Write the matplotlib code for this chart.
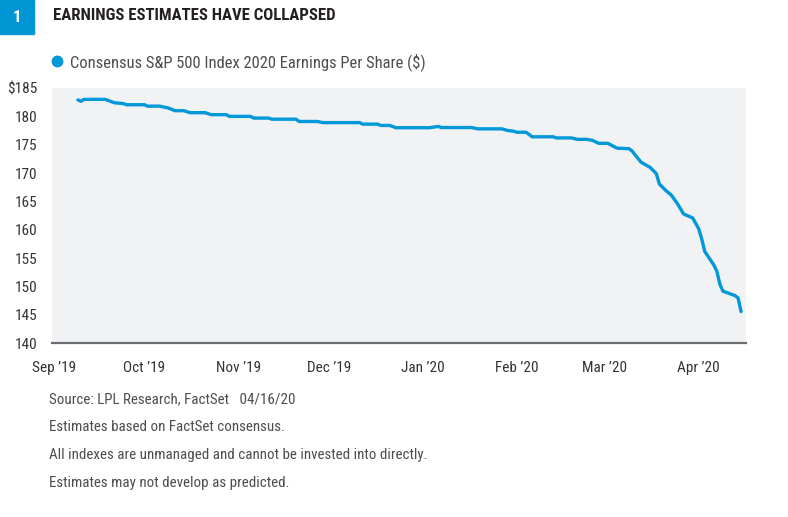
import matplotlib
matplotlib.use("Agg")
import matplotlib.pyplot as plt
from matplotlib import font_manager as fm
from matplotlib.lines import Line2D
import pandas as pd

# ---------------- data ----------------
dates = [
    "2019-09-09", "2019-09-10", "2019-09-11", "2019-09-18", "2019-09-21",
    "2019-09-24", "2019-09-25", "2019-10-01", "2019-10-02", "2019-10-06",
    "2019-10-09", "2019-10-11", "2019-10-14", "2019-10-16", "2019-10-21",
    "2019-10-23", "2019-10-28", "2019-10-29", "2019-11-05", "2019-11-06",
    "2019-11-11", "2019-11-12", "2019-11-20", "2019-11-21", "2019-11-27",
    "2019-11-29", "2019-12-11", "2019-12-12", "2019-12-17", "2019-12-18",
    "2019-12-21", "2019-12-23", "2020-01-03", "2020-01-06", "2020-01-07",
    "2020-01-17", "2020-01-19", "2020-01-27", "2020-01-29", "2020-01-31",
    "2020-02-01", "2020-02-04", "2020-02-06", "2020-02-13", "2020-02-14",
    "2020-02-19", "2020-02-21", "2020-02-24", "2020-02-26", "2020-02-28",
    "2020-03-02", "2020-03-05", "2020-03-09", "2020-03-10", "2020-03-11",
    "2020-03-13", "2020-03-16", "2020-03-18", "2020-03-19", "2020-03-21",
    "2020-03-23", "2020-03-25", "2020-03-27", "2020-03-30", "2020-04-01",
    "2020-04-02", "2020-04-03", "2020-04-06", "2020-04-07", "2020-04-08",
    "2020-04-09", "2020-04-13", "2020-04-14", "2020-04-15",
]
eps = [
    182.9, 182.65, 183.0, 183.0, 182.4,
    182.25, 182.05, 182.05, 181.8, 181.8,
    181.45, 181.0, 181.0, 180.65, 180.65,
    180.3, 180.3, 180.0, 180.0, 179.7,
    179.7, 179.5, 179.5, 179.1, 179.1,
    178.9, 178.9, 178.63, 178.63, 178.4,
    178.4, 178.0, 178.0, 178.22, 178.03,
    178.03, 177.8, 177.8, 177.5, 177.37,
    177.2, 177.2, 176.4, 176.4, 176.2,
    176.2, 175.95, 175.95, 175.75, 175.25,
    175.25, 174.4, 174.3, 173.9, 173.2,
    171.9, 171.0, 169.9, 168.1, 167.0,
    166.1, 164.6, 162.8, 162.1, 160.2,
    158.4, 156.2, 153.8, 152.7, 150.4,
    149.2, 148.4, 148.0, 145.6,
]
month_ticks = ["2019-09-01", "2019-10-01", "2019-11-01", "2019-12-01",
               "2020-01-01", "2020-02-01", "2020-03-01", "2020-04-01"]
month_labels = ["Sep \u201919", "Oct \u201919", "Nov \u201919", "Dec \u201919",
                "Jan \u201920", "Feb \u201920", "Mar \u201920", "Apr \u201920"]
y_ticks = [140, 145, 150, 155, 160, 165, 170, 175, 180, 185]
y_labels = ["140", "145", "150", "155", "160", "165", "170", "175", "180", "$185"]
series_label = "Consensus S&P 500 Index 2020 Earnings Per Share ($)"
title = "EARNINGS ESTIMATES HAVE COLLAPSED"
notes = [
    "Source: LPL Research, FactSet   04/16/20",
    "Estimates based on FactSet consensus.",
    "All indexes are unmanaged and cannot be invested into directly.",
    "Estimates may not develop as predicted.",
]

# ---------------- fonts ----------------
names = {f.name for f in fm.fontManager.ttflist}
family = None
stretch = "normal"
for cand in ["Liberation Sans Narrow", "Roboto Condensed", "Open Sans Condensed",
             "DejaVu Sans Condensed", "Noto Sans Condensed", "Arial Narrow"]:
    if cand in names:
        family = cand
        break
if family is None:
    for f in fm.fontManager.ttflist:
        if f.stretch in ("condensed", "semi-condensed", "extra-condensed") or \
           (isinstance(f.stretch, int) and f.stretch < 500):
            family = f.name
            stretch = f.stretch
            break
if family is None:
    family = "Roboto"
    scale = 0.85
else:
    scale = 1.0

plt.rcParams["font.family"] = [family, "DejaVu Sans"]
FS = lambda px: px * 0.72 * scale

BLUE = "#0098D8"
DARK = "#231F20"
GRAY = "#4D4D4F"

# ---------------- figure ----------------
W, H = 788, 517
fig = plt.figure(figsize=(W / 100, H / 100), dpi=100)
fig.patch.set_facecolor("white")

ax_l, ax_r, ax_t, ax_b = 51.7, 746, 88, 343.3
ax = fig.add_axes([ax_l / W, 1 - ax_b / H, (ax_r - ax_l) / W, (ax_b - ax_t) / H])
ax.set_facecolor("#F1F2F4")

x = pd.to_datetime(dates)
ax.plot(x, eps, color=BLUE, lw=2.4, solid_joinstyle="round",
        solid_capstyle="round", label=series_label, zorder=3)

ax.set_ylim(140, 185)
ax.set_xlim(pd.Timestamp("2019-08-31 08:00"), pd.Timestamp("2020-04-16 15:00"))

ax.set_yticks(y_ticks)
ax.set_yticklabels(y_labels)
ax.set_xticks(pd.to_datetime(month_ticks))
ax.set_xticklabels(month_labels)

for s in ["top", "right", "left"]:
    ax.spines[s].set_visible(False)
ax.spines["bottom"].set_color("#6D6E71")
ax.spines["bottom"].set_linewidth(1.6)
ax.tick_params(axis="both", length=0, colors="#333333", labelsize=FS(15.2))
ax.tick_params(axis="y", pad=10.5)
ax.tick_params(axis="x", pad=13)
for lab in ax.get_xticklabels() + ax.get_yticklabels():
    lab.set_fontstretch(stretch)

# legend
handle = Line2D([], [], marker="o", ls="none", color=BLUE, markersize=7.5)
leg = ax.legend([handle], [series_label], loc="center left",
                bbox_to_anchor=(49 / W, 1 - 62 / H), bbox_transform=fig.transFigure,
                frameon=False, handletextpad=0.25, handlelength=1.0,
                borderpad=0, borderaxespad=0,
                prop=dict(family=[family, "DejaVu Sans"], size=FS(16.5), stretch=stretch))
for t in leg.get_texts():
    t.set_color(GRAY)

# title block
fig.patches.append(plt.Rectangle((0, 1 - 34 / H), 34 / W, 34 / H,
                                 transform=fig.transFigure, color="#0096D6", zorder=1))
fig.text(17 / W, 1 - 17 / H, "1", color="white", ha="center", va="center",
         fontsize=FS(17), fontweight="bold", fontstretch=stretch)
fig.text(53 / W, 1 - 16 / H, title, color=DARK, ha="left", va="center",
         fontsize=FS(16.8), fontweight="bold", fontstretch=stretch)

# footnotes
for i, n in enumerate(notes):
    fig.text(49 / W, 1 - (399 + 28 * i) / H, n, color=GRAY, ha="left", va="center",
             fontsize=FS(15), fontstretch=stretch)

fig.savefig("out.png", dpi=100, facecolor="white")
